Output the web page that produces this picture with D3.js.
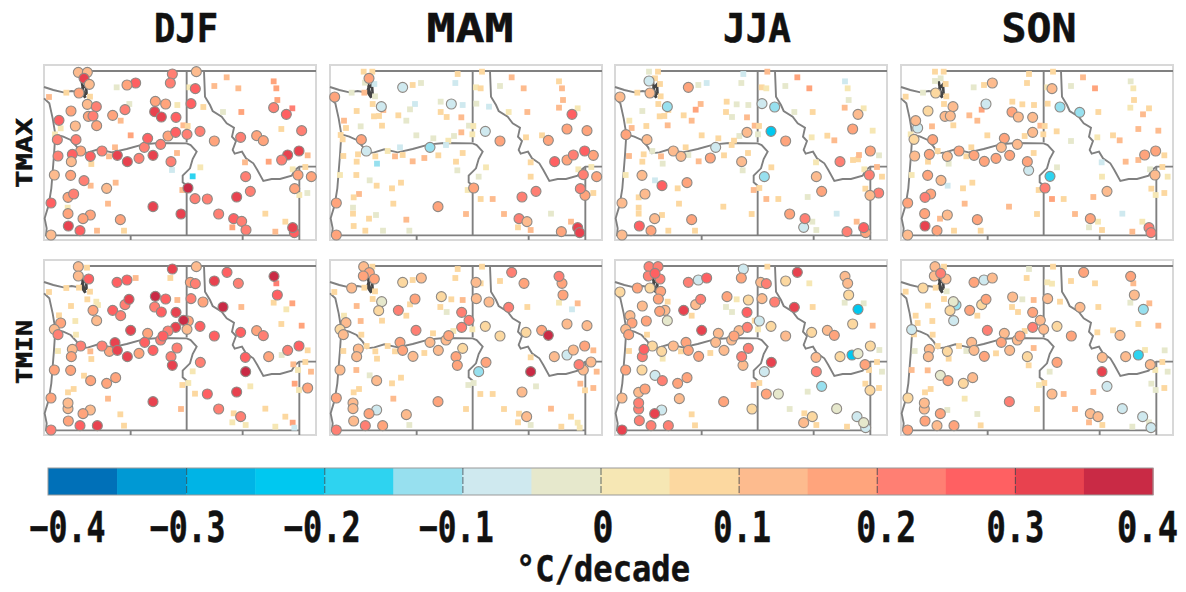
<!DOCTYPE html>
<html>
<head>
<meta charset="utf-8">
<title>Temperature trends</title>
<script src="https://cdnjs.cloudflare.com/ajax/libs/d3/7.8.5/d3.min.js"></script>
<style>
html, body { margin: 0; padding: 0; background: #fff; }
svg { display: block; }
text { font-family: "DejaVu Sans Mono", monospace; font-weight: bold; fill: #111; stroke: #111; stroke-width: 0.5px; }
</style>
</head>
<body>
<svg id="chart" width="1186" height="592"></svg>
<script>
//--categories--
var seasons = ["DJF", "MAM", "JJA", "SON"];
var variables = ["TMAX", "TMIN"];

//--colour classes (°C/decade)--
var classBreaks = [-0.35, -0.3, -0.25, -0.2, -0.15, -0.1, -0.05, 0, 0.05, 0.1, 0.15, 0.2, 0.25, 0.3, 0.35];
var classColors = ["#0070b8", "#0099d4", "#00b4e6", "#00c8f0", "#2fd3f0", "#97e0ef", "#cfe9ef", "#e6e8cc",
    "#f6e7b4", "#fcd8a0", "#fdbb8e", "#ffa47c", "#ff7f73", "#ff6062", "#e8434f", "#c92c44"];
var barTicks = [-0.4, -0.3, -0.2, -0.1, 0, 0.1, 0.2, 0.3, 0.4];
var barDomain = [-0.4, 0.4];

//--stations: [map east, map south, trend], significant trends first, then the others--
var djfTmaxSig = [[145,52,.125],[172,52,.125],[162,70,.3],[178,88,.125],[147,114,.175],[172,148,.125],[199,155,.225],[123,168,.175],[175,184,.175],[189,183,.225],[200,212,.175],[136,213,.125],[87,196,.275],[82,254,.225],[138,254,.225],[152,288,.175],[127,298,.275],[84,303,.225],[124,320,.125],[181,304,.275],[216,288,.225],[262,301,.325],[292,320,.325],[327,310,.225],[369,301,.325],[423,320,.225],[343,277,.225],[353,250,.275],[392,268,.225],[414,243,.175],[437,232,.275],[471,238,.225],[510,229,.225],[553,258,.175],[632,247,.225],[680,242,.175],[700,257,.175],[815,227,.225],[731,158,.225],[769,178,.275],[483,146,.275],[496,101,.275],[499,50,.125],[427,57,.225],[421,84,.225],[317,84,.275],[291,90,.175],[285,164,.225],[248,181,.175],[376,139,.175],[407,147,.175],[374,170,.325],[394,186,.325],[438,187,.275],[807,288,.325],[773,300,.325],[755,315,.225],[804,360,.175],[844,365,.175],[794,401,.175],[647,365,.225],[661,409,.225],[620,426,.325],[474,399,.375],[495,431,.225],[532,432,.225],[566,477,.225],[611,491,.275],[635,499,.225],[648,525,.225],[793,533,.275],[788,518,.325],[453,477,.325],[369,455,.325],[271,494,.175],[230,400,.125],[162,377,.225],[122,361,.175],[73,360,.125],[114,427,.175],[131,417,.225],[63,444,.275],[114,476,.175],[181,480,.175],[159,491,.175],[115,513,.325],[150,527,.275],[63,540,.125]];
var djfTmaxOther = [[57,126,.125],[109,113,.075],[180,125,.075],[260,97,-.025],[298,147,-.025],[272,197,.125],[302,241,.175],[442,150,.025],[520,156,.075],[478,97,.025],[590,67,.125],[553,93,.125],[625,100,.125],[731,79,.175],[739,100,.175],[742,135,.175],[787,160,.225],[634,171,.175],[579,171,-.025],[754,222,.075],[460,211,.125],[473,213,.075],[92,220,.025],[75,238,.025],[255,277,.125],[237,304,.125],[184,327,.075],[441,294,.125],[426,345,-.075],[511,337,.025],[488,364,-.175],[645,322,.125],[716,320,.175],[833,301,.125],[826,336,.075],[788,343,.025],[808,420,.025],[832,414,-.025],[257,383,.125],[182,392,.125],[457,405,.125],[234,446,.125],[113,458,.025],[706,476,.075],[766,500,.075],[736,530,.125],[607,517,.175],[201,527,.125],[282,527,.075]];

var mamTmaxSig = [[147,70,.175],[248,97,-.075],[44,126,.175],[184,155,-.075],[394,147,-.075],[124,254,.15],[139,288,-.075],[330,277,-.125],[496,229,-.075],[540,258,.175],[756,178,.275],[741,222,.175],[801,227,.175],[685,256,.175],[820,301,.175],[741,315,.175],[760,300,.225],[794,288,.275],[704,320,.275],[790,359,.225],[830,365,.175],[795,421,.175],[781,401,.225],[648,409,.225],[606,426,.225],[461,399,.175],[354,455,.175],[49,444,.175],[49,540,.175],[597,491,.225],[621,500,.125],[724,530,.175],[773,518,.325],[779,533,.325]];
var mamTmaxOther = [[131,50,.075],[157,50,.075],[413,57,.075],[486,50,.075],[406,84,-.075],[575,67,.125],[135,83,-.025],[163,87,-.075],[133,113,.125],[95,113,-.025],[278,90,.075],[303,84,-.025],[468,97,.025],[482,100,.075],[540,93,-.025],[611,100,.125],[717,79,.075],[726,100,.125],[729,135,.125],[717,158,.125],[773,160,.025],[165,124,-.025],[158,147,.075],[285,147,-.075],[270,163,-.025],[362,140,-.025],[428,150,-.075],[469,146,-.025],[507,155,-.075],[110,168,.075],[162,184,.075],[177,183,.075],[190,165,.125],[235,181,.075],[259,197,-.025],[362,171,.075],[380,186,.075],[424,187,.125],[566,171,.025],[622,171,.125],[72,197,.125],[78,219,.075],[122,214,-.025],[186,212,.075],[62,240,.075],[68,253,.075],[289,241,-.025],[340,250,-.025],[447,212,-.025],[460,213,.025],[424,232,.125],[457,238,.025],[402,243,-.025],[385,257,.025],[618,247,.075],[666,241,.075],[378,270,-.075],[240,277,-.075],[203,288,.025],[114,298,.075],[70,303,.075],[110,320,.075],[166,304,.075],[225,304,.125],[248,300,.075],[171,326,-.125],[278,319,.125],[313,309,.125],[355,301,.075],[428,294,.075],[408,320,.075],[412,346,-.025],[498,337,.025],[632,322,.075],[814,336,.025],[775,343,.025],[60,360,.025],[109,360,.075],[149,376,-.025],[476,365,-.025],[632,365,.075],[243,383,.075],[170,392,.075],[216,400,.075],[117,417,.125],[101,427,.075],[443,405,.025],[220,446,.075],[482,432,.075],[518,432,.125],[820,414,.075],[99,458,-.025],[99,476,.075],[168,480,-.025],[147,491,.075],[438,477,.125],[552,477,.125],[693,476,-.025],[259,494,.125],[753,500,.125],[101,513,.075],[136,527,.075],[189,527,-.025],[268,527,-.025],[594,517,.075],[632,525,.125]];

var jjaTmaxSig = [[132,78,-.075],[45,126,.125],[135,114,.125],[250,97,.175],[187,155,-.125],[471,146,-.075],[509,156,-.125],[498,229,-.225],[426,232,.125],[542,258,.175],[63,239,.175],[126,254,.125],[205,288,.125],[228,304,.125],[332,277,-.075],[316,309,.175],[410,320,.125],[478,365,-.125],[111,361,.125],[171,392,.275],[246,383,.175],[120,417,.125],[51,444,.125],[149,491,.125],[103,513,.275],[138,527,.175],[51,540,.125],[260,494,.175],[554,477,.175],[596,517,-.075],[600,491,.225],[650,409,.175],[634,365,.125],[705,320,.225],[796,288,.175],[793,360,.225],[821,414,.225],[795,421,.125],[759,178,.125],[743,222,.175],[726,530,.225],[782,533,.175],[776,518,.275]];
var jjaTmaxOther = [[132,50,-.025],[159,50,.075],[415,57,-.075],[487,50,.125],[409,84,-.025],[577,67,.175],[150,70,.075],[165,87,.075],[97,113,.075],[167,124,.075],[280,90,-.025],[305,84,-.075],[470,97,.075],[484,100,.025],[541,93,-.025],[613,100,.175],[720,79,-.075],[728,100,.025],[731,135,-.025],[719,158,.125],[776,160,.025],[160,147,.075],[112,168,-.025],[164,184,.075],[178,183,.075],[190,165,.075],[272,164,.175],[287,147,.125],[236,181,.075],[260,197,.125],[365,140,.075],[395,148,-.025],[430,150,-.025],[363,171,.075],[381,186,-.025],[426,187,.125],[568,171,-.025],[623,171,.075],[73,197,.025],[80,219,.125],[124,213,.075],[188,211,.125],[449,212,.125],[462,213,.075],[459,238,-.025],[403,243,-.025],[290,241,.075],[340,250,.075],[387,257,.075],[380,270,.075],[242,277,.075],[620,247,.025],[667,242,.075],[688,256,.125],[803,227,.025],[142,288,-.025],[116,298,.075],[72,303,.125],[168,304,.125],[250,300,-.025],[112,320,.075],[173,326,-.025],[281,319,.125],[357,301,.075],[429,294,.075],[413,346,-.025],[499,337,.075],[633,322,.025],[744,315,.075],[759,313,.075],[762,300,.125],[822,301,-.025],[816,336,.125],[778,343,.025],[62,360,.025],[150,376,-.075],[831,365,.075],[463,399,.075],[446,405,.125],[218,400,.075],[781,401,.075],[101,427,.075],[222,446,.075],[484,432,.125],[520,432,.075],[608,426,-.025],[355,455,.075],[101,458,.075],[101,476,.075],[171,480,.075],[440,477,.075],[695,476,-.075],[622,500,-.025],[755,500,.125],[190,527,.075],[270,527,.075],[634,525,-.025]];

var sonTmaxSig = [[137,114,.075],[307,84,.125],[486,101,.125],[189,155,.125],[114,168,.075],[165,184,.125],[181,183,.125],[288,147,-.075],[366,171,.175],[385,186,.125],[428,187,.125],[83,219,-.075],[77,197,.125],[72,253,.075],[128,254,.175],[428,232,.125],[343,250,.175],[382,268,.125],[334,277,.125],[207,288,.175],[252,301,.175],[172,304,.125],[118,298,.175],[74,303,.125],[283,319,.175],[318,310,.175],[359,301,.175],[416,346,-.075],[412,320,.175],[113,361,.175],[153,376,.125],[122,417,.175],[105,427,.225],[53,444,.175],[104,476,.175],[172,480,.125],[105,513,.325],[141,527,.175],[53,540,.125],[262,494,.175],[465,399,.225],[480,364,-.175],[510,156,-.125],[569,172,-.125],[797,288,.175],[764,300,.175],[795,360,.125],[651,409,.125],[601,491,.175],[777,518,.225],[783,533,.225]];
var sonTmaxOther = [[135,50,.075],[161,50,.075],[417,57,.075],[489,50,.075],[411,84,.075],[579,67,.125],[152,70,-.025],[135,78,-.025],[167,87,.075],[282,90,.075],[251,97,-.025],[99,113,-.025],[47,125,.075],[169,124,.075],[472,97,.025],[543,93,-.025],[615,100,.175],[722,79,-.025],[730,100,.025],[732,135,.075],[721,158,.025],[777,160,.075],[759,178,.125],[162,147,.075],[275,164,.175],[238,181,.125],[262,197,.125],[367,140,.075],[397,148,.075],[432,150,.075],[473,146,.075],[625,171,.075],[190,211,.075],[126,214,.125],[451,212,.125],[464,213,.075],[460,238,.075],[500,229,.075],[404,243,.075],[292,241,.075],[543,258,-.025],[622,247,.025],[669,241,.075],[689,256,.125],[745,222,.125],[805,227,.125],[244,277,.075],[143,288,.075],[229,304,.075],[114,320,.075],[176,326,-.025],[431,294,.075],[501,337,-.025],[635,322,-.075],[707,320,.125],[745,315,.125],[823,301,.075],[817,336,.075],[780,343,-.025],[65,360,.025],[62,238,.025],[636,365,.025],[833,365,.025],[173,392,-.075],[247,383,.075],[219,400,.075],[446,405,.075],[784,401,.075],[823,414,.075],[797,420,.025],[224,446,.125],[486,432,.175],[521,432,.075],[610,426,.125],[357,455,.125],[441,477,.075],[555,477,.125],[697,476,-.075],[150,491,.125],[624,500,.025],[757,500,.025],[192,527,.075],[272,527,.075],[597,517,-.025],[636,525,.075],[727,530,.125]];

var djfTminSig = [[145,50,.125],[145,78,.125],[176,87,.275],[427,57,.325],[499,50,.125],[591,67,.275],[553,93,.325],[625,100,.225],[732,79,.375],[742,135,.275],[261,97,.275],[291,90,.275],[481,97,.175],[496,101,.225],[483,146,.225],[519,156,.175],[579,171,.375],[285,164,.225],[297,148,.325],[248,181,.275],[272,197,.225],[189,181,.175],[200,212,.125],[376,139,.375],[407,147,.275],[374,171,.225],[394,186,.275],[438,187,.325],[475,213,.175],[461,211,.375],[437,232,.325],[471,238,.125],[414,243,.225],[510,229,.275],[553,258,.275],[632,247,.275],[680,242,.175],[700,257,.225],[92,219,.175],[73,238,.125],[84,254,.225],[302,241,.325],[353,250,.175],[392,270,.225],[399,258,.275],[344,277,.275],[238,304,.175],[255,278,.325],[216,288,.225],[262,301,.325],[152,288,.225],[127,298,.125],[124,320,.175],[292,320,.325],[327,310,.175],[369,301,.275],[441,294,.225],[423,320,.225],[427,346,.325],[511,337,.225],[646,322,.275],[647,365,.375],[716,320,.175],[773,301,.225],[807,288,.275],[73,360,.175],[122,361,.175],[182,392,.175],[230,400,.175],[257,383,.175],[63,444,.175],[114,476,.125],[114,459,.125],[181,480,.125],[159,491,.175],[115,513,.175],[150,527,.275],[202,527,.325],[63,540,.225],[369,455,.325],[532,432,.275],[620,426,.325],[566,477,.225],[632,500,.225],[833,414,.175]];
var djfTminOther = [[171,53,.075],[317,84,.125],[421,84,.075],[739,100,.225],[57,126,.075],[109,114,.075],[147,113,.075],[180,125,.075],[172,148,.075],[199,155,.025],[204,165,.025],[123,168,.075],[442,150,.125],[634,171,.125],[731,158,.075],[787,160,.175],[769,178,.025],[87,196,.075],[136,213,.025],[754,222,.075],[815,227,.175],[138,254,.025],[181,304,.125],[84,303,.025],[184,327,.075],[833,301,.075],[755,315,-.025],[826,336,.075],[790,343,.125],[804,360,.025],[843,365,.125],[488,364,.025],[162,377,.075],[457,405,.075],[475,399,.025],[794,401,.175],[807,420,.025],[131,417,.075],[114,427,.075],[234,446,.125],[495,431,.075],[661,409,.025],[453,477,.125],[271,493,.075],[706,476,.075],[611,490,.075],[766,500,.075],[607,517,.025],[647,525,.025],[788,518,.175],[736,530,.025],[282,527,.075],[793,533,-.075]];

var mamTminSig = [[131,50,.125],[148,68,.175],[130,78,.175],[163,87,.175],[95,114,.125],[248,97,.075],[304,84,.125],[285,147,.175],[185,155,-.025],[176,182,.075],[235,181,.225],[364,140,.075],[425,187,.225],[447,211,.225],[425,232,.225],[288,241,.225],[378,270,.125],[386,257,.175],[330,277,.125],[240,277,.175],[248,301,.175],[279,319,.125],[355,301,.125],[428,295,.075],[408,320,.175],[412,346,.175],[498,337,.175],[476,365,-.125],[78,218,.125],[60,238,.075],[70,254,.125],[115,297,.125],[110,320,.125],[60,360,.125],[170,392,.125],[49,444,.175],[99,459,.125],[99,476,.125],[170,480,-.075],[147,491,.175],[101,513,.125],[136,527,.225],[188,527,.175],[49,540,.225],[259,494,.125],[354,455,.175],[468,97,.125],[469,146,.125],[507,156,.125],[496,229,.075],[540,258,.075],[575,67,.225],[612,100,.175],[566,172,.225],[618,247,.075],[665,241,.175],[685,256,.375],[726,100,.175],[717,79,.225],[729,135,.175],[741,222,.125],[801,227,.125],[741,315,-.075],[760,300,.125],[794,288,.175],[703,320,.125],[813,336,.125],[790,360,.125],[777,344,.225],[632,365,.375],[606,426,.125],[620,500,.125]];
var mamTminOther = [[157,50,.075],[413,57,.075],[486,50,.075],[406,84,.075],[278,90,.075],[43,126,.075],[133,113,.075],[165,124,.075],[158,147,.075],[482,100,.075],[540,93,.075],[394,148,.075],[428,150,.125],[270,163,.075],[110,168,.125],[361,171,.075],[380,186,-.025],[259,197,.075],[186,212,.075],[122,213,.125],[72,197,.025],[622,171,.075],[717,158,.025],[773,160,.125],[756,178,-.075],[457,238,.025],[339,250,.075],[400,243,.025],[124,254,.075],[203,288,.075],[140,288,.075],[166,304,.075],[225,304,.075],[171,326,.075],[70,303,.075],[313,309,.075],[632,322,.075],[820,301,.125],[830,365,.125],[109,360,.125],[149,376,-.025],[243,383,.075],[216,400,.075],[117,417,.075],[101,427,.075],[445,405,-.025],[461,399,-.025],[481,432,.075],[518,432,.075],[648,409,-.025],[781,401,.125],[820,414,.125],[795,421,.075],[220,446,.125],[438,477,.075],[552,477,.075],[693,476,.125],[597,491,.075],[753,500,.075],[773,518,.025],[779,533,.025],[594,517,.075],[632,525,-.025],[724,530,.075],[268,525,-.025]];

var jjaTminSig = [[132,50,.225],[159,50,.225],[130,78,.225],[165,87,.225],[150,70,.275],[97,114,.175],[135,114,.075],[45,126,.075],[167,124,.175],[160,147,.175],[250,97,.225],[280,90,-.075],[305,84,.275],[415,57,-.075],[409,84,.175],[467,97,.125],[484,101,.225],[542,93,.075],[577,67,.325],[720,79,.125],[728,100,.125],[731,135,.075],[759,178,-.225],[743,222,.075],[112,168,.125],[180,181,.125],[164,184,.175],[124,213,.175],[187,212,-.025],[75,197,.125],[81,219,.175],[62,238,.125],[71,254,.175],[236,181,.325],[272,164,.125],[287,148,.225],[366,140,.175],[430,150,.075],[426,187,.275],[471,146,.125],[509,156,.225],[568,172,.325],[463,213,-.075],[402,242,.125],[427,232,.225],[380,270,.125],[387,258,.175],[498,229,.075],[542,258,.125],[290,241,.325],[340,250,.125],[332,277,.125],[243,277,.175],[205,288,.125],[250,301,.175],[281,319,.175],[357,301,.125],[430,295,.225],[414,346,.125],[410,320,.225],[142,288,.075],[170,304,.075],[112,320,.225],[117,298,.275],[62,360,.175],[111,360,.075],[150,376,-.075],[172,392,.225],[218,400,.175],[246,383,.175],[101,427,.125],[120,417,.175],[51,444,.125],[101,477,.225],[101,459,.225],[170,480,-.075],[149,491,.325],[103,512,.225],[138,527,.225],[190,527,.225],[51,540,.325],[223,446,.125],[356,455,.175],[441,477,.075],[484,432,.175],[520,432,-.025],[478,365,-.075],[499,337,.325],[620,247,.075],[667,241,.125],[688,256,.175],[633,322,.125],[634,365,.225],[650,409,-.125],[705,320,.075],[741,315,-.225],[759,311,-.025],[796,288,.075],[780,344,.175],[795,421,.075],[695,476,-.025],[622,500,.075],[596,518,.125],[756,500,-.075],[782,533,-.075],[776,518,-.025]];
var jjaTminOther = [[487,50,.075],[613,100,.025],[188,155,.075],[395,148,.025],[363,171,-.025],[381,186,-.025],[260,197,.075],[623,171,.075],[719,158,-.025],[776,160,-.025],[803,227,.125],[449,212,.075],[459,238,.025],[126,254,.075],[72,303,.075],[173,326,.025],[228,304,.075],[316,309,.075],[823,300,-.025],[816,336,.075],[792,360,.075],[831,365,-.025],[446,405,.125],[463,399,.075],[781,401,.075],[822,414,.075],[608,425,-.025],[554,477,-.025],[260,493,.075],[270,526,.075],[598,490,.075],[634,525,.075],[726,530,.075]];

var sonTminSig = [[135,50,.125],[133,78,.125],[168,87,.125],[152,70,.225],[99,114,.075],[252,97,.175],[282,90,-.075],[307,84,.125],[368,141,.125],[473,146,.125],[581,67,.175],[722,79,.175],[733,135,.125],[198,165,-.125],[190,155,-.025],[180,182,.075],[239,181,.175],[275,164,.075],[288,148,.175],[191,212,-.075],[428,187,.175],[451,211,.125],[461,238,.125],[428,232,.225],[292,241,.225],[343,250,.125],[382,270,.125],[390,258,.175],[334,277,.175],[245,277,.125],[252,301,.125],[283,319,.175],[359,301,.125],[412,320,.075],[501,229,.075],[501,337,.175],[544,258,.175],[570,172,.125],[65,239,-.075],[118,298,.125],[115,320,.125],[172,304,.075],[760,178,-.125],[690,256,.125],[637,322,.125],[707,320,.125],[745,315,-.175],[781,344,.125],[636,365,.325],[651,409,-.075],[486,432,.125],[151,376,-.025],[174,392,.175],[220,400,.075],[248,383,.125],[54,444,.075],[103,477,.125],[103,459,.125],[151,491,.175],[105,513,.175],[141,527,.125],[192,527,.175],[53,540,.175],[358,455,.225],[601,491,.125],[624,500,.125],[697,476,-.075],[758,500,-.075],[783,533,-.075]];
var sonTminOther = [[162,50,.075],[417,57,-.025],[489,50,.075],[410,84,.075],[47,125,.075],[137,113,.075],[170,124,-.025],[162,147,.075],[472,97,.025],[486,101,.025],[543,93,.075],[615,100,.075],[730,100,.125],[397,148,-.025],[431,150,.125],[510,155,.075],[625,171,.075],[114,167,.075],[366,171,.075],[384,186,.075],[262,197,.075],[77,197,.075],[83,219,.075],[127,213,.075],[721,158,-.025],[778,160,.125],[745,222,.075],[805,227,.125],[404,243,.075],[622,247,.075],[669,241,.075],[72,253,.075],[128,254,.075],[143,288,.075],[207,288,.075],[74,303,-.025],[176,326,.075],[229,303,-.025],[318,310,.075],[431,294,.125],[416,346,.075],[765,300,.025],[824,301,-.025],[817,336,.075],[796,360,.025],[833,365,-.025],[65,360,.125],[113,361,.125],[479,365,-.025],[463,399,.075],[447,405,.025],[784,401,-.025],[823,414,.075],[797,420,-.025],[122,417,.075],[105,427,.075],[224,446,.025],[610,426,.125],[521,432,.125],[441,477,.075],[555,477,.125],[172,480,-.025],[262,492,-.025],[597,517,.125],[637,525,.075],[272,526,.075],[727,530,-.025],[777,517,-.025]];

//--map window of each panel in the digitised map grid--
var panelData = [
    [djfTmaxOther, djfTmaxSig, mamTmaxOther, mamTmaxSig, jjaTmaxOther, jjaTmaxSig, sonTmaxOther, sonTmaxSig],
    [djfTminOther, djfTminSig, mamTminOther, mamTminSig, jjaTminOther, jjaTminSig, sonTminOther, sonTminSig]
];
var windowWest = [42, 30, 30, 33];
var windowWidth = 816;
var windowHeight = 525;
var windowNorth = 30;

//--state lines and coast, in the grid of the first column--
var borders = [
    [[165,48],[858,48]],
    [[470,48],[470,262]],
    [[522,48],[525,125],[540,150],[548,168],[575,185],[590,205],[612,218],[606,245],[618,258],[608,285],[614,296],[636,290],[648,310],[670,325],[682,345],[700,378],[725,372],[750,372],[785,362],[795,345],[808,335],[858,335]],
    [[808,335],[808,555]],
    [[42,96],[70,105],[100,112],[125,108],[148,112]],
    [[42,130],[58,145],[68,190],[76,238],[100,245],[122,255],[140,275],[152,295],[175,292],[205,283],[245,292],[290,282],[340,268],[385,264],[470,265],[482,270],[500,290],[488,312],[480,340],[458,362],[458,382],[470,392],[470,541]],
    [[76,238],[72,300],[68,350],[64,400],[56,450],[44,490],[50,520],[48,541],[808,541]],
    [[302,541],[302,555]],
    [[638,541],[638,555]]
];
var sound = [[155,78],[158,96],[154,110],[166,128],[158,100],[168,88],[170,120]];

var panelW = 272, panelH = 175, panelTop = [65, 260], panelLeft = [44, 330, 615, 901];
var titleX = [186, 470, 757, 1039];
var barX = [48, 1153], barTop = 468, barH = 27;

//--how far each bar label sits from its tick, and how wide it is set--
var tickShift = [19, 1, -2.5, -6.5, 2, 3, 9, 0, -6];
var tickWidth = [76, 76, 77, 75, 21, 58, 60, 58, 61];
var tickGlyphW = 25.3;

var svg = d3.select("#chart");
var color = d3.scaleThreshold().domain(classBreaks).range(classColors);

var defs = svg.append("defs");
defs.append("filter").attr("id", "soft")
    .attr("x", "-5%").attr("y", "-5%").attr("width", "110%").attr("height", "110%")
    .append("feGaussianBlur").attr("stdDeviation", 0.7);

//--titles--
function label(parent, txt, x, y, size, len) {
    return parent.append("text")
        .attr("x", x).attr("y", y)
        .attr("text-anchor", "middle")
        .attr("font-size", size)
        .attr("textLength", len)
        .attr("lengthAdjust", "spacingAndGlyphs")
        .text(txt);
}
var titleLen = [64, 87, 68, 75];
seasons.forEach(function (s, i) {
    label(svg, s, titleX[i], 42, 39, titleLen[i]);
});
var rowY = [153, 352], rowLen = [70, 64];
variables.forEach(function (v, i) {
    label(svg.append("g").attr("transform", "translate(32," + rowY[i] + ") rotate(-90)"), v, 0, 0, 22, rowLen[i]);
});

//--map panels--
var lineGrid = d3.line();

variables.forEach(function (v, r) {
    seasons.forEach(function (s, c) {
        var g = svg.append("g")
            .attr("transform", "translate(" + panelLeft[c] + "," + panelTop[r] + ")")
            .attr("filter", "url(#soft)");

        var x = d3.scaleLinear().domain([windowWest[c], windowWest[c] + windowWidth]).range([0, panelW]);
        var y = d3.scaleLinear().domain([windowNorth, windowNorth + windowHeight]).range([0, panelH]);
        var bx = d3.scaleLinear().domain([windowWest[0], windowWest[0] + windowWidth]).range([0, panelW]);

        g.append("rect")
            .attr("width", panelW).attr("height", panelH)
            .attr("fill", "#fff").attr("stroke", "#d8d8d8").attr("stroke-width", 2);

        var path = lineGrid.x(function (d) { return bx(d[0]); }).y(function (d) { return y(d[1]); });
        g.selectAll("path.border").data(borders).enter().append("path")
            .attr("class", "border")
            .attr("d", path)
            .attr("fill", "none")
            .attr("stroke", "#808080")
            .attr("stroke-width", 1.9);
        g.append("path").attr("d", path(sound))
            .attr("fill", "none").attr("stroke", "#444").attr("stroke-width", 2.6);

        //--non significant stations--
        g.selectAll("rect.st").data(panelData[r][c * 2]).enter().append("rect")
            .attr("class", "st")
            .attr("x", function (d) { return x(d[0]) - 2.9; })
            .attr("y", function (d) { return y(d[1]) - 2.9; })
            .attr("width", 5.8).attr("height", 5.8)
            .attr("fill", function (d) { return color(d[2]); });

        //--significant stations--
        g.selectAll("circle.st").data(panelData[r][c * 2 + 1]).enter().append("circle")
            .attr("class", "st")
            .attr("cx", function (d) { return x(d[0]); })
            .attr("cy", function (d) { return y(d[1]); })
            .attr("r", 5)
            .attr("fill", function (d) { return color(d[2]); })
            .attr("stroke", "#8f8a85")
            .attr("stroke-width", 1.1);
    });
});

//--colour bar--
var barScale = d3.scaleLinear().domain(barDomain).range(barX);
var bar = svg.append("g").attr("filter", "url(#soft)");
bar.selectAll("rect").data(classColors).enter().append("rect")
    .attr("x", function (d, i) { return barScale(barDomain[0] + i * 0.05); })
    .attr("y", barTop)
    .attr("width", barScale(0.05) - barScale(0) + 0.5)
    .attr("height", barH)
    .attr("fill", function (d) { return d; });
bar.append("rect")
    .attr("x", barX[0]).attr("y", barTop)
    .attr("width", barX[1] - barX[0]).attr("height", barH)
    .attr("fill", "none").attr("stroke", "#999").attr("stroke-width", 1);

var axis = d3.axisBottom(barScale)
    .tickValues(barTicks)
    .tickSize(barH)
    .tickFormat(function (d) { return d === 0 ? "0" : d3.format(".1f")(d); });
var axisG = svg.append("g").attr("transform", "translate(0," + barTop + ")").call(axis);
axisG.select(".domain").remove();
axisG.selectAll("line")
    .attr("stroke", "#3a4a50")
    .attr("stroke-width", 1)
    .attr("stroke-dasharray", "7,2")
    .attr("opacity", function (d) { return Math.abs(d) === 0.4 ? 0 : 0.8; });
//--labels squeezed with a transform so their boxes stay inside the page--
axisG.selectAll("text")
    .attr("y", 0)
    .attr("dy", 0)
    .attr("transform", function (d, i) {
        var natural = String(this.textContent).length * tickGlyphW;
        return "translate(" + tickShift[i] + ",74) scale(" + (tickWidth[i] / natural) + ",1)";
    })
    .attr("font-size", 42)
    .attr("font-family", "DejaVu Sans Mono")
    .attr("font-weight", "bold")
    .attr("fill", "#111");

label(svg, "°C/decade", 603, 581, 35, 174);
</script>
</body>
</html>
